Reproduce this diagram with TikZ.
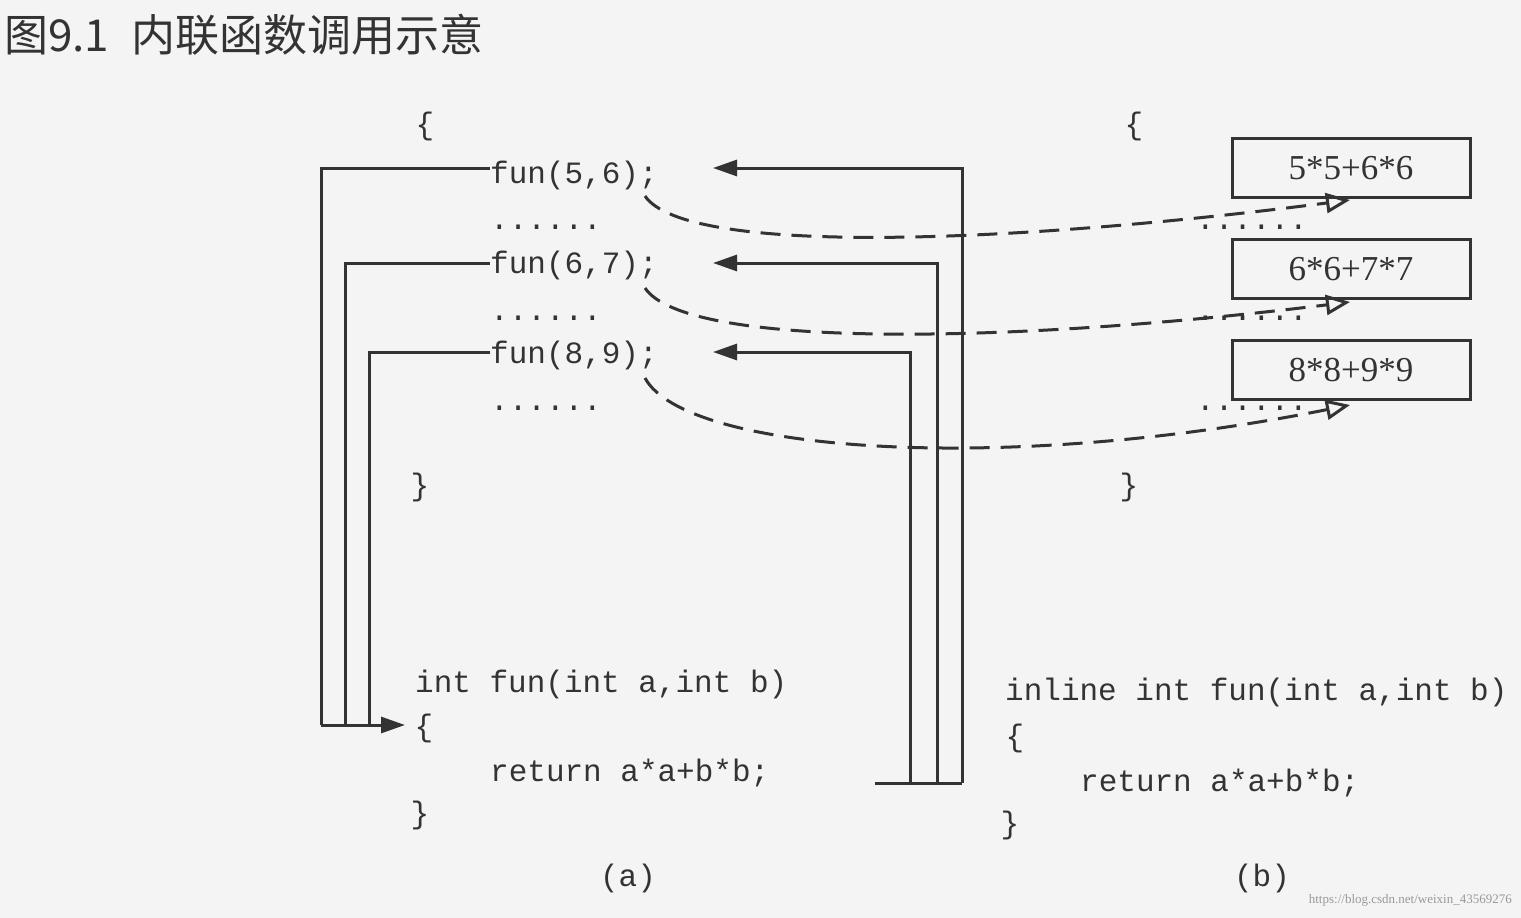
\documentclass[tikz,border=0pt]{standalone}
\usepackage{fontspec}
\setmainfont{Liberation Serif}
\setmonofont{Liberation Mono}
\newfontfamily\cjk{Noto Sans CJK SC}
\usetikzlibrary{arrows.meta}
\definecolor{ink}{HTML}{333333}
\begin{document}
\begin{tikzpicture}[x=1pt,y=-1pt,
  code/.style={anchor=west,inner sep=0pt,font=\ttfamily\fontsize{31}{34}\selectfont,text=ink},
  brace/.style={inner sep=0pt,font=\ttfamily\fontsize{31}{34}\selectfont,text=ink},
  dots/.style={anchor=west,inner sep=0pt,font=\ttfamily\fontsize{31}{34}\selectfont,text=ink},
  res/.style={draw=ink,line width=3pt,minimum width=238,minimum height=59,inner sep=0pt,font=\fontsize{35}{38}\selectfont,text=ink},
  wire/.style={draw=ink,line width=3pt},
  call/.style={wire,-{Triangle[length=24,width=16]}},
  inl/.style={draw=ink,line width=3pt,dash pattern=on 20pt off 11pt,-{Triangle[open,length=24,width=20]}}]
\fill[color={rgb,255:red,245;green,244;blue,244}] (0,0) rectangle (1521,918);
\useasboundingbox (0,0) rectangle (1521,918);
\node[anchor=west,inner sep=0pt,font=\cjk\fontsize{44}{46}\selectfont,text=ink] (title) at (4,35) {图9.1\hspace{22pt}内联函数调用示意};
% (a)
\node[brace] (ao) at (425,126) {\{};
\node[code] (f1) at (490,175) {fun(5,6);};
\node[dots] (d1) at (490,227) {......};
\node[code] (f2) at (490,265) {fun(6,7);};
\node[dots] (d2) at (490,318) {......};
\node[code] (f3) at (490,355) {fun(8,9);};
\node[dots] (d3) at (490,408) {......};
\node[brace] (ac) at (420,487) {\}};
\node[code] (def) at (415,684) {int fun(int a,int b)};
\node[brace] (fo) at (424,728) {\{};
\node[code] (ret) at (490,773) {return a*a+b*b;};
\node[brace] (fc) at (420,815) {\}};
\node[brace] (la) at (628,878) {(a)};
\coordinate (entry) at (405,725);
\coordinate (exit) at (875,783);
\coordinate (t1) at (713,168);
\coordinate (t2) at (713,263);
\coordinate (t3) at (713,352);
\draw[wire] (f1.west |- t1) -- (321,168) -- (321,725);
\draw[wire] (f2.west |- t2) -- (345,263) -- (345,725);
\draw[wire] (f3.west |- t3) -- (369,352) -- (369,725);
\draw[call] (321,725) -- (entry);
\draw[wire] (exit) -- (962,783);
\draw[call] (910,783) -- (910,352) -- (t3);
\draw[call] (937,783) -- (937,263) -- (t2);
\draw[call] (962,783) -- (962,168) -- (t1);
% (b)
\node[brace] (bo) at (1134,126) {\{};
\node[res] (r1) at (1351,168) {5*5+6*6};
\node[res] (r2) at (1351,269) {6*6+7*7};
\node[res] (r3) at (1351,370) {8*8+9*9};
\node[dots] (e1) at (1196,227) {......};
\node[dots] (e2) at (1196,318) {......};
\node[dots] (e3) at (1196,408) {......};
\node[brace] (bc) at (1129,487) {\}};
\node[code] (idef) at (1005,692) {inline int fun(int a,int b)};
\node[brace] (io) at (1015,738) {\{};
\node[code] (iret) at (1080,783) {return a*a+b*b;};
\node[brace] (ic) at (1010,825) {\}};
\node[brace] (lb) at (1262,878) {(b)};
\node[anchor=east,inner sep=0pt,font=\fontsize{13}{14}\selectfont,text=gray!80] (wm) at (1512,900) {https://blog.csdn.net/weixin\_43569276};
% inline substitution
\draw[inl] (645,196) .. controls (685,255) and (1000,245) .. (1350,200);
\draw[inl] (645,288) .. controls (685,348) and (1000,345) .. (1350,302);
\draw[inl] (645,378) .. controls (685,452) and (1000,475) .. (1350,405);
\end{tikzpicture}
\end{document}
